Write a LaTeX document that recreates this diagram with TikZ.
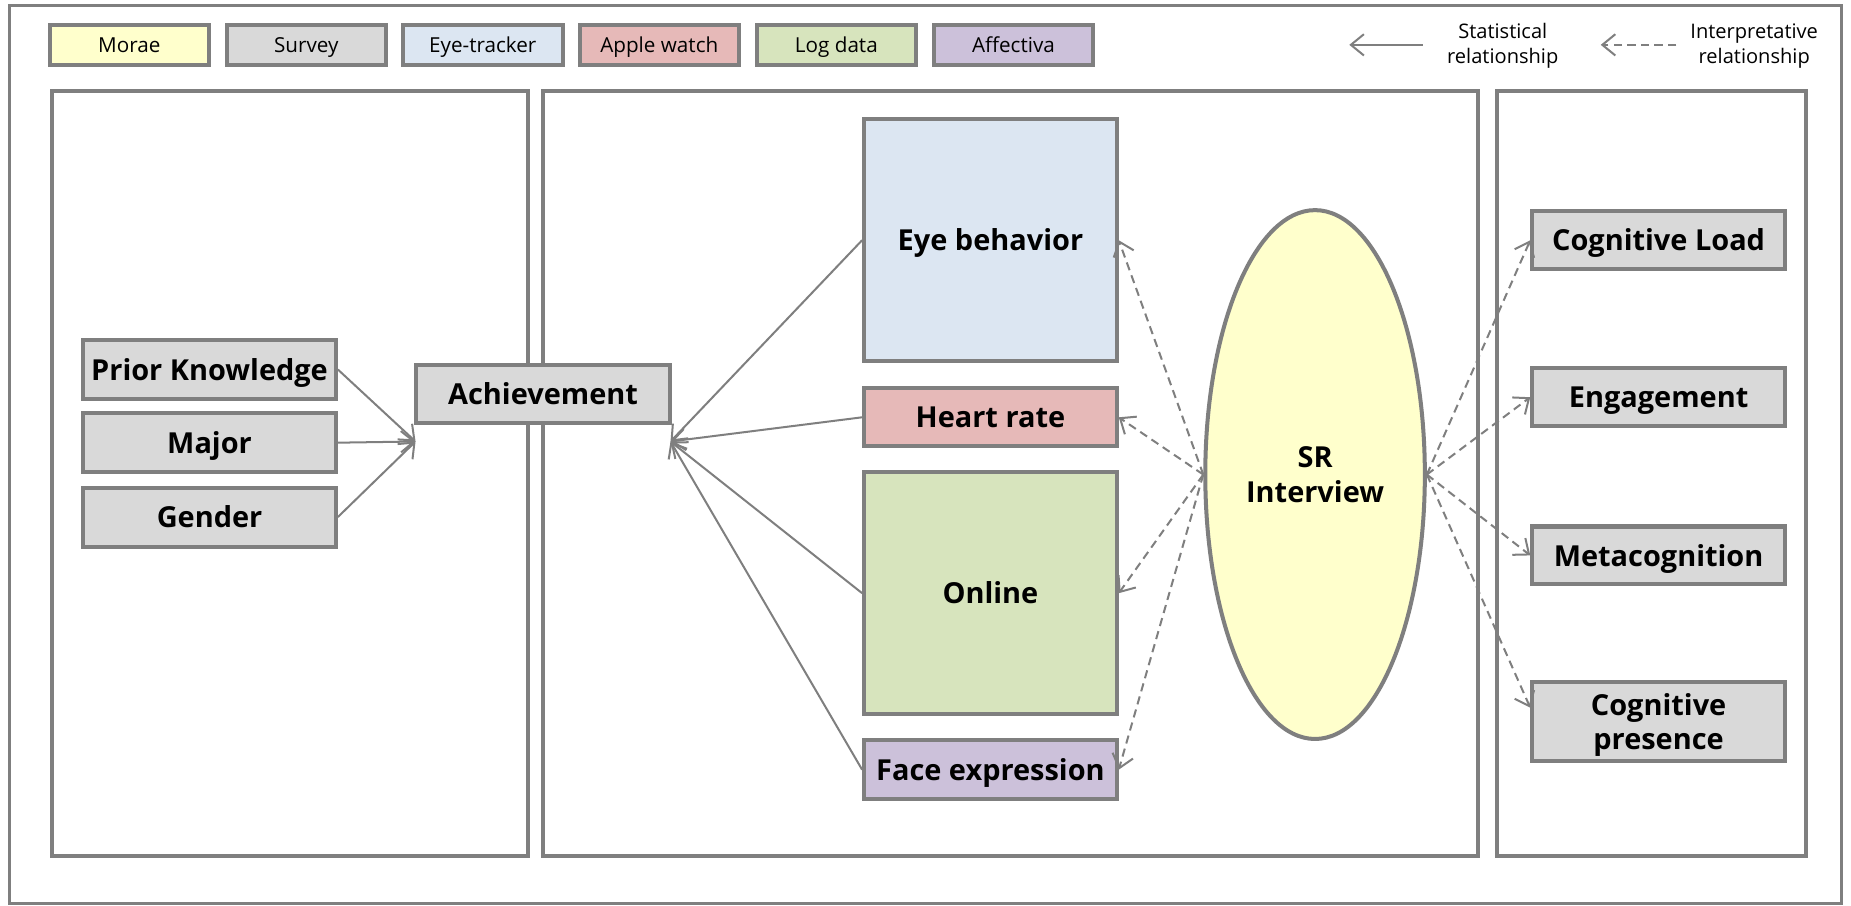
\documentclass[tikz,border=0pt]{standalone}
\usepackage{fontspec}
\setmainfont{Open Sans}
\usetikzlibrary{arrows.meta,shapes.geometric,calc}
\definecolor{edge}{HTML}{7F7F7F}
\definecolor{cMorae}{HTML}{FFFFCC}
\definecolor{cSurvey}{HTML}{D9D9D9}
\definecolor{cEye}{HTML}{DCE6F2}
\definecolor{cApple}{HTML}{E6B9B8}
\definecolor{cLog}{HTML}{D7E4BD}
\definecolor{cAff}{HTML}{CCC1DA}
\begin{document}
\begin{tikzpicture}[x=1pt,y=-1pt,
  legbox/.style={draw=edge,line width=3.4pt,minimum width=135pt,minimum height=34pt,inner sep=0pt,
    text height=12.5pt,text depth=0pt,font=\fontsize{17.5}{18}\selectfont},
  box/.style={draw=edge,line width=3.4pt,minimum width=214pt,inner sep=0pt,text depth=0pt,
    font=\fontsize{24.5}{29}\selectfont\bfseries,align=center},
  onebox/.style={box,text height=18pt},
  panel/.style={draw=edge,line width=3.4pt},
  stat/.style={draw=edge,line width=1.7pt,-{Straight Barb[length=11pt,width=18pt]}},
  interp/.style={stat,dash pattern=on 7pt off 4.5pt},
  legtext/.style={font=\fontsize{17}{21}\selectfont,align=center,inner sep=0pt}
]
\useasboundingbox (0,0) rectangle (1568,767);
\draw[draw=edge,line width=2.5pt] (8,5) rectangle (1560,765);

% legend
\node[legbox,fill=cMorae]  (lmorae)  at (109.5,38) {Morae};
\node[legbox,fill=cSurvey] (lsurvey) at (259.5,38) {Survey};
\node[legbox,fill=cEye]    (leye)    at (409,38)   {Eye-tracker};
\node[legbox,fill=cApple]  (lapple)  at (558.5,38) {Apple watch};
\node[legbox,fill=cLog]    (llog)    at (708.5,38) {Log data};
\node[legbox,fill=cAff]    (laff)    at (858.5,38) {Affectiva};

\coordinate (s1) at (1205,38);
\coordinate (s2) at (1143,38);
\draw[stat] (s1) -- (s2);
\node[legtext] (stxt) at (1273,39) {Statistical\\relationship};
\coordinate (i1) at (1420,38);
\coordinate (i2) at (1356,38);
\draw[interp] (i1) -- (i2);
\node[legtext] (itxt) at (1486,39) {Interpretative\\relationship};

% panels
\draw[panel] (44,77) rectangle (447,725);
\draw[panel] (460,77) rectangle (1252,725);
\draw[panel] (1268,77) rectangle (1530,725);

% left nodes
\node[onebox,fill=cSurvey,minimum height=50pt] (pk)     at (177.5,313) {Prior Knowledge};
\node[onebox,fill=cSurvey,minimum height=50pt] (major)  at (177.5,375) {Major};
\node[onebox,fill=cSurvey,minimum height=50pt] (gender) at (177.5,438) {Gender};
\node[onebox,fill=cSurvey,minimum height=49pt,minimum width=215pt] (ach) at (460,334) {Achievement};
\coordinate (achL) at (352,374);
\coordinate (achR) at (568,374);

% middle nodes
\node[onebox,fill=cEye,minimum height=205pt]   (eye)    at (839,203.5) {Eye behavior};
\node[onebox,fill=cApple,minimum height=49pt]  (heart)  at (839,353.5) {Heart rate};
\node[onebox,fill=cLog,minimum height=205pt]   (online) at (839,502.5) {Online};
\node[onebox,fill=cAff,minimum height=50pt]    (face)   at (839,652)   {Face expression};

\node[ellipse,draw=edge,line width=3.4pt,fill=cMorae,minimum width=186pt,minimum height=448pt,inner sep=0pt,
      text depth=0pt,font=\fontsize{24.5}{29}\selectfont\bfseries,align=center] (sr) at (1114,402) {SR\\Interview};

% right nodes
\node[onebox,fill=cSurvey,minimum height=49pt] (cl)   at (1405,203.5) {Cognitive Load};
\node[onebox,fill=cSurvey,minimum height=49pt] (eng)  at (1405,336.5) {Engagement};
\node[onebox,fill=cSurvey,minimum height=49pt] (meta) at (1405,470.5) {Metacognition};
\node[box,fill=cSurvey,minimum height=67pt] (cp)   at (1405,611.5) {Cognitive\\presence};
\coordinate (cpin) at ($(cp.north west)!0.33!(cp.south west)$);

% statistical connectors
\draw[stat] (pk.east) -- (achL);
\draw[stat] (major.east) -- (achL);
\draw[stat] (gender.east) -- (achL);
\draw[stat] (eye.west) -- (achR);
\draw[stat] (heart.west) -- (achR);
\draw[stat] (online.west) -- (achR);
\draw[stat] (face.west) -- (achR);

% interpretative connectors
\draw[interp] (sr.west) -- (eye.east);
\draw[interp] (sr.west) -- (heart.east);
\draw[interp] (sr.west) -- (online.east);
\draw[interp] (sr.west) -- (face.east);
\draw[interp] (sr.east) -- (cl.west);
\draw[interp] (sr.east) -- (eng.west);
\draw[interp] (sr.east) -- (meta.west);
\draw[interp] (sr.east) -- (cpin);
\end{tikzpicture}
\end{document}
